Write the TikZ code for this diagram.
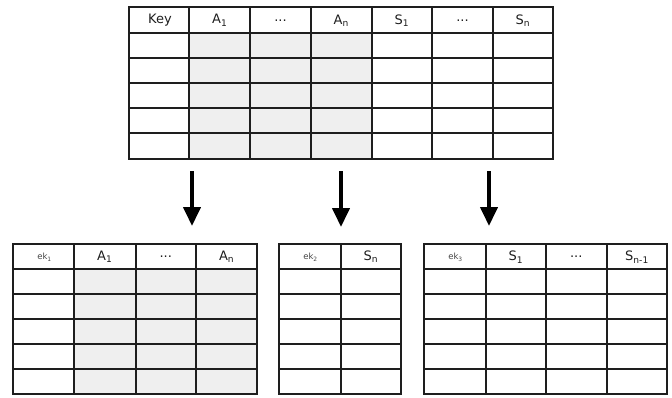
\documentclass[tikz,border=0pt]{standalone}
\usepackage{fontspec}
\setmainfont{DejaVu Sans}
\usetikzlibrary{arrows.meta}
\definecolor{cellgray}{HTML}{EFEFEF}
\definecolor{gridc}{HTML}{1E1E1E}
\definecolor{ekc}{HTML}{444444}
\tikzset{
  gridline/.style={line width=1.9pt, draw=gridc},
  shadecell/.style={fill=cellgray},
  hdr/.style={font=\fontsize{13}{15}\selectfont, text=gridc, inner sep=0pt, anchor=center},
  ektext/.style={font=\fontsize{8.5}{10}\selectfont, text=ekc, inner sep=0pt, anchor=center},
  bigarrow/.style={line width=4pt, -{Triangle[width=17pt,length=19pt]}},
}
\begin{document}
\begin{tikzpicture}[x=1pt,y=-1pt]
\useasboundingbox (0,0) rectangle (672,397);
% ---------- top table ----------
\fill[shadecell] (189.3,33) rectangle (371.7,159);
\foreach \x in {189.3,250,311,371.7,432.3,492.7}
  \draw[gridline] (\x,7) -- (\x,159);
\foreach \y in {33,58,83,108,133}
  \draw[gridline] (129,\y) -- (553,\y);
\draw[gridline] (129,7) rectangle (553,159);
\node[hdr] (tkey) at (160,20.5) {Key};
\node[hdr] (ta1) at (219.7,20.5) {A\textsubscript{1}};
\node[hdr] (tad) at (280.5,20.5) {...};
\node[hdr] (tan) at (341.3,20.5) {A\textsubscript{n}};
\node[hdr] (ts1) at (402,20.5) {S\textsubscript{1}};
\node[hdr] (tsd) at (462.5,20.5) {...};
\node[hdr] (tsn) at (522.8,20.5) {S\textsubscript{n}};
% ---------- bottom left table ----------
\fill[shadecell] (74,269) rectangle (257.3,394);
\foreach \x in {74,135.7,196}
  \draw[gridline] (\x,244) -- (\x,394);
\foreach \y in {269,294,319,344,369}
  \draw[gridline] (13.3,\y) -- (257.3,\y);
\draw[gridline] (13.3,244) rectangle (257.3,394);
\node[ektext] (lek) at (44.5,257) {ek\textsubscript{1}};
\node[hdr] (la1) at (104.8,257) {A\textsubscript{1}};
\node[hdr] (lad) at (165.8,257) {...};
\node[hdr] (lan) at (226.6,257) {A\textsubscript{n}};
% ---------- bottom middle table ----------
\foreach \y in {269,294,319,344,369}
  \draw[gridline] (279.3,\y) -- (401,\y);
\draw[gridline] (340.7,244) -- (340.7,394);
\draw[gridline] (279.3,244) rectangle (401,394);
\node[ektext] (mek) at (310.5,257) {ek\textsubscript{2}};
\node[hdr] (msn) at (370.8,257) {S\textsubscript{n}};
% ---------- bottom right table ----------
\foreach \x in {485.7,546,606.7}
  \draw[gridline] (\x,244) -- (\x,394);
\foreach \y in {269,294,319,344,369}
  \draw[gridline] (424,\y) -- (667.3,\y);
\draw[gridline] (424,244) rectangle (667.3,394);
\node[ektext] (rek) at (455.5,257) {ek\textsubscript{3}};
\node[hdr] (rs1) at (515.8,257) {S\textsubscript{1}};
\node[hdr] (rsd) at (576.3,257) {...};
\node[hdr] (rsn) at (637,257) {S\textsubscript{n-1}};
% ---------- arrows ----------
\coordinate (a1s) at (192,171);
\coordinate (a1e) at (192,226);
\coordinate (a2s) at (341,171);
\coordinate (a2e) at (341,227);
\coordinate (a3s) at (489,171);
\coordinate (a3e) at (489,226);
\draw[bigarrow] (a1s) -- (a1e);
\draw[bigarrow] (a2s) -- (a2e);
\draw[bigarrow] (a3s) -- (a3e);
\end{tikzpicture}
\end{document}
